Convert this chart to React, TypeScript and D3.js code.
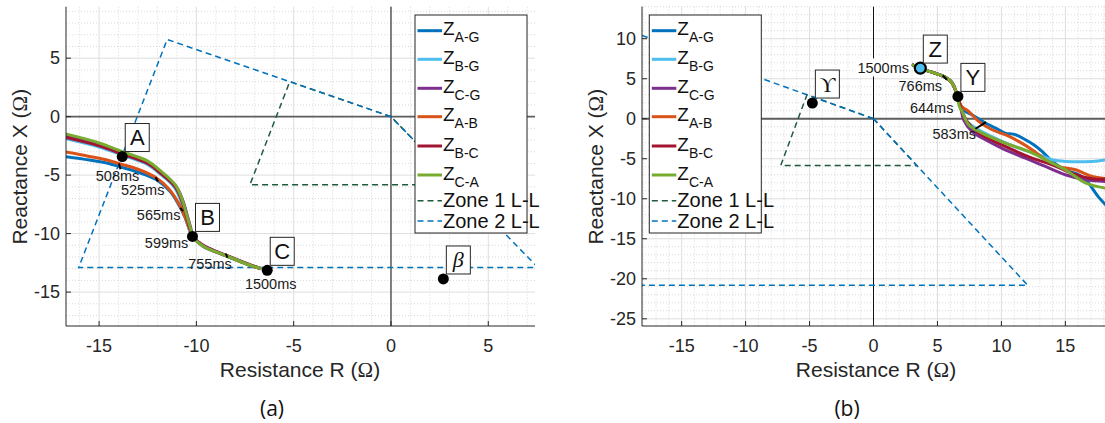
import React from 'react';
import * as d3 from 'd3';

type P = [number, number];

const seriesKeys = ['A-G', 'B-G', 'C-G', 'A-B', 'B-C', 'C-A'];
const seriesColors = ['#0072BD', '#4DBEEE', '#7E2F8E', '#D95319', '#A2142F', '#77AC30'];
const zoneNames = ['Zone 1 L-L', 'Zone 2 L-L'];
const zoneColors = ['#1f5a3c', '#0072BD'];

// ---------- panel (a) ----------
const aXDomain: P = [-16.7, 7.4];
const aYDomain: P = [-17.9, 9.4];
const aXTicks = [-15, -10, -5, 0, 5];
const aYTicks = [-15, -10, -5, 0, 5];

const aZAG: P[] = [[-16.8, -3.4], [-15.5, -3.7], [-14.5, -4.0], [-13.9, -4.3], [-13, -4.75], [-12.05, -5.4], [-11.35, -6.4], [-10.95, -7.4], [-10.6, -8.55], [-10.35, -9.7], [-10.2, -10.24], [-9.65, -11.1], [-8.45, -11.92], [-7.07, -12.82], [-6.75, -12.97]];
const aZBG: P[] = [[-16.8, -1.85], [-15, -2.6], [-13.8, -3.3], [-12.5, -4.1], [-11.9, -4.85], [-11.15, -6.0], [-10.8, -7.2], [-10.55, -8.6], [-10.3, -9.95], [-10.2, -10.24], [-9.65, -11.05], [-8.45, -11.9], [-7.07, -12.8], [-6.7, -12.95]];
const aZCG: P[] = [[-16.8, -1.65], [-15, -2.4], [-13.8, -3.1], [-12.5, -3.9], [-11.85, -4.7], [-11.05, -5.95], [-10.7, -7.15], [-10.45, -8.55], [-10.22, -9.95], [-10.18, -10.22], [-9.62, -11.02], [-8.42, -11.88], [-7.05, -12.78], [-6.8, -12.93]];
const aZAB: P[] = [[-16.8, -3.0], [-15.5, -3.4], [-14.5, -3.75], [-13.9, -4.05], [-13, -4.5], [-12.05, -5.25], [-11.4, -6.2], [-10.95, -7.3], [-10.6, -8.5], [-10.35, -9.6], [-10.2, -10.22], [-9.65, -11.06], [-8.45, -11.91], [-7.07, -12.81], [-6.72, -12.96]];
const aZBC: P[] = [[-16.8, -1.75], [-15, -2.5], [-13.8, -3.2], [-12.5, -4.0], [-11.88, -4.78], [-11.1, -5.98], [-10.75, -7.18], [-10.5, -8.58], [-10.26, -9.97], [-10.2, -10.24], [-9.64, -11.04], [-8.44, -11.89], [-7.06, -12.79], [-6.78, -12.94]];
const aZCA: P[] = [[-16.8, -1.45], [-15, -2.25], [-13.8, -3.0], [-12.5, -3.8], [-11.9, -4.55], [-11.1, -5.8], [-10.75, -7.0], [-10.5, -8.4], [-10.25, -9.9], [-10.2, -10.24], [-9.66, -11.06], [-8.46, -11.9], [-7.08, -12.8], [-6.74, -12.95]];

const aZone1: P[] = [[0, 0], [-5.2, 3.0], [-7.25, -5.83], [3.38, -5.83], [0, 0]];
const aZone2: P[] = [[0, 0], [-11.5, 6.6], [-16.05, -12.9], [7.55, -12.9], [0, 0]];

const aDots: P[] = [[-13.81, -3.41], [-10.2, -10.24], [-6.36, -13.14], [2.69, -13.88]];
const aDotLabels = ['A', 'B', 'C', 'β'];
const aTimeText = ['508ms', '525ms', '565ms', '599ms', '755ms', '1500ms'];
const aTimePos: P[] = [[-14.05, -5.06], [-12.76, -6.25], [-11.94, -8.39], [-11.53, -10.8], [-9.3, -12.6], [-6.18, -14.3]];
const aTimeTicks: [P, P][] = [
  [[-13.98, -4.0], [-13.9, -4.5]],
  [[-12.1, -5.18], [-11.97, -5.55]],
  [[-10.83, -7.8], [-10.69, -8.08]],
  [[-8.49, -11.72], [-8.4, -12.06]],
];

// ---------- panel (b) ----------
const bXDomain: P = [-18.1, 18.1];
const bYDomain: P = [-25.9, 14];
const bXTicks = [-15, -10, -5, 0, 5, 10, 15];
const bYTicks = [-25, -20, -15, -10, -5, 0, 5, 10];

const bZAG: P[] = [[3.1, 6.7], [3.66, 6.3], [4.5, 5.85], [5.6, 5.2], [6.14, 4.5], [6.45, 3.4], [6.6, 2.6], [6.85, 1.6], [7.2, 0.9], [7.7, 0.5], [8.75, -0.54], [9.79, -1.38], [10.3, -1.79], [11.1, -2.0], [11.88, -2.63], [12.53, -3.25], [13.18, -4.08], [13.97, -5.33], [15.0, -6.38], [16.05, -7.0], [16.6, -7.6], [17.1, -8.67], [17.6, -9.8], [18.3, -11.0]];
const bZBG: P[] = [[3.1, 6.7], [3.66, 6.3], [4.5, 5.85], [5.6, 5.2], [6.14, 4.5], [6.45, 3.4], [6.6, 2.6], [6.8, 1.5], [7.18, -0.13], [8.22, -1.38], [9.79, -2.63], [11.35, -3.67], [12.92, -4.5], [13.97, -5.13], [15.0, -5.33], [17.1, -5.33], [18.3, -5.1]];
const bZCG: P[] = [[3.1, 6.7], [3.66, 6.3], [4.5, 5.85], [5.6, 5.2], [6.14, 4.5], [6.45, 3.4], [6.6, 2.6], [6.8, 1.5], [7.05, -0.13], [7.7, -1.58], [8.75, -2.63], [10.3, -3.88], [11.88, -4.92], [13.44, -5.96], [15, -7.0], [16.6, -7.63], [18.3, -7.85]];
const bZAB: P[] = [[3.1, 6.7], [3.66, 6.3], [4.5, 5.85], [5.6, 5.2], [6.14, 4.5], [6.45, 3.4], [6.62, 2.6], [6.85, 1.6], [7.44, 0.92], [8.22, -0.33], [9.27, -1.38], [10.3, -2.0], [11.35, -2.83], [12.4, -3.88], [13.44, -5.13], [14.48, -5.96], [15.8, -6.38], [17.1, -7.2], [18.3, -7.5]];
const bZBC: P[] = [[3.1, 6.7], [3.66, 6.3], [4.5, 5.85], [5.6, 5.2], [6.14, 4.5], [6.45, 3.4], [6.6, 2.6], [6.8, 1.5], [7.31, -0.33], [8.22, -1.79], [10.3, -3.46], [12.4, -4.92], [13.97, -5.75], [15.5, -6.79], [17.1, -7.5], [18.3, -7.55]];
const bZCA: P[] = [[3.1, 6.7], [3.66, 6.3], [4.5, 5.85], [5.6, 5.2], [6.14, 4.5], [6.45, 3.4], [6.58, 2.6], [6.7, 1.6], [6.93, 0.92], [7.44, -0.75], [8.49, -1.79], [10.3, -3.04], [12.14, -4.08], [13.7, -5.33], [15, -6.38], [16.6, -8.04], [18.3, -8.7]];

const bZone1: P[] = [[0, 0], [-5.2, 3.0], [-7.25, -5.83], [3.38, -5.83], [0, 0]];
const bZone2: P[] = [[0, 0], [-18.6, 10.7], [-26, -20.8], [12.05, -20.8], [0, 0]];

const bDots: P[] = [[3.66, 6.33], [6.6, 2.79], [-4.78, 1.96]];
const bDotLabels = ['Z', 'Y', 'ϒ'];
const bTimeText = ['1500ms', '766ms', '644ms', '583ms'];
const bTimePos: P[] = [[0.76, 6.41], [3.66, 4.04], [4.55, 1.34], [6.31, -1.92]];
const bTimeTicks: [P, P][] = [
  [[5.41, 5.41], [5.75, 4.88]],
  [[7.97, -1.25], [8.8, -0.42]],
];

const FONT = '"Liberation Sans", Arial, Helvetica, sans-serif';
const AXIS = '#262626';
const TOP = 6.7;
const BOTTOM = 326;

type PanelProps = {
  id: string;
  xDomain: P; yDomain: P; xRange: P;
  xTicks: number[]; yTicks: number[];
  series: P[][];
  zones: P[][];
  dots: P[]; dotLabels: string[]; hollowFirst?: boolean;
  timeText: string[]; timePos: P[]; timeTicks: [P, P][]; bgFirst?: boolean;
  legendX: number;
  yTitleX: number;
  xTitleX: number;
  captionX: number;
  caption: string;
};

function Panel(p: PanelProps) {
  const x = d3.scaleLinear().domain(p.xDomain).range(p.xRange);
  const y = d3.scaleLinear().domain(p.yDomain).range([BOTTOM, TOP]);
  const [x0, x1] = p.xRange;
  const curve = d3.line<P>().x(d => x(d[0])).y(d => y(d[1])).curve(d3.curveCatmullRom.alpha(0.5));
  const poly = d3.line<P>().x(d => x(d[0])).y(d => y(d[1]));
  const xMinor = d3.range(Math.ceil(p.xDomain[0]), Math.floor(p.xDomain[1]) + 1).filter(v => v % 5 !== 0);
  const yMinor = d3.range(Math.ceil(p.yDomain[0]), Math.floor(p.yDomain[1]) + 1).filter(v => v % 5 !== 0);
  const clip = `url(#clip-${p.id})`;
  const isSerif = (s: string) => s === 'β' || s === 'ϒ';
  const lx = p.legendX;
  const rowY = [30.7, 59.3, 88.3, 116.7, 146, 175, 200.7, 221];
  return (
    <g>
      <defs>
        <clipPath id={`clip-${p.id}`}>
          <rect x={x0} y={TOP} width={x1 - x0} height={BOTTOM - TOP} />
        </clipPath>
      </defs>
      {xMinor.map(v => (
        <line key={'xm' + v} x1={x(v)} x2={x(v)} y1={TOP} y2={BOTTOM} stroke="#cfcfcf" strokeWidth={0.8} strokeDasharray="1 2" />
      ))}
      {yMinor.map(v => (
        <line key={'ym' + v} x1={x0} x2={x1} y1={y(v)} y2={y(v)} stroke="#cfcfcf" strokeWidth={0.8} strokeDasharray="1 2" />
      ))}
      {p.xTicks.map(v => (
        <line key={'xg' + v} x1={x(v)} x2={x(v)} y1={TOP} y2={BOTTOM} stroke="#dedede" strokeWidth={1} />
      ))}
      {p.yTicks.map(v => (
        <line key={'yg' + v} x1={x0} x2={x1} y1={y(v)} y2={y(v)} stroke="#dedede" strokeWidth={1} />
      ))}
      <line x1={x0} x2={x1} y1={y(0)} y2={y(0)} stroke="#5e5e5e" strokeWidth={1.8} />
      <line x1={x(0)} x2={x(0)} y1={TOP} y2={BOTTOM} stroke="#111" strokeWidth={1} />
      <g clipPath={clip}>
        {p.zones.map((z, i) => (
          <path key={'z' + i} d={poly(z) || ''} fill="none" stroke={zoneColors[i]} strokeWidth={1.5} strokeDasharray="6 4" />
        ))}
        {p.series.map((s, i) => (
          <path key={'s' + i} d={curve(s) || ''} fill="none" stroke={seriesColors[i]} strokeWidth={3} strokeLinejoin="round" strokeLinecap="round" />
        ))}
        {p.timeTicks.map((t, i) => (
          <line key={'tt' + i} x1={x(t[0][0])} y1={y(t[0][1])} x2={x(t[1][0])} y2={y(t[1][1])} stroke="#000" strokeWidth={2} />
        ))}
      </g>
      {p.timeText.map((t, i) => (
        <g key={'tl' + i}>
          {p.bgFirst && i === 0 && (
            <rect x={x(p.timePos[i][0]) - 28} y={y(p.timePos[i][1]) - 9} width={56} height={18} fill="#fff" />
          )}
          <text x={x(p.timePos[i][0])} y={y(p.timePos[i][1])} dy="0.35em" textAnchor="middle" fontFamily={FONT} fontSize={14.5} fill="#1a1a1a">{t}</text>
        </g>
      ))}
      {p.dots.map((d, i) => (
        <g key={'d' + i}>
          <circle cx={x(d[0])} cy={y(d[1])} r={5.5} fill={p.hollowFirst && i === 0 ? '#4DBEEE' : '#000'} stroke="#000" strokeWidth={p.hollowFirst && i === 0 ? 2.2 : 0} />
          <rect x={x(d[0]) + 3} y={y(d[1]) - 5 - 28} width={24} height={28} fill="#fff" stroke={AXIS} strokeWidth={1} />
          <text x={x(d[0]) + 15} y={y(d[1]) - 11.5} textAnchor="middle"
            fontFamily={isSerif(p.dotLabels[i]) ? '"Liberation Serif", "DejaVu Serif", serif' : FONT}
            fontStyle={p.dotLabels[i] === 'β' ? 'italic' : 'normal'}
            fontSize={22} fill="#111">{p.dotLabels[i]}</text>
        </g>
      ))}
      <g>
        <rect x={lx} y={15} width={112} height={218} fill="#fff" stroke={AXIS} strokeWidth={1} />
        {seriesKeys.map((k, i) => (
          <g key={'lg' + k}>
            <line x1={lx + 2.5} x2={lx + 27} y1={rowY[i]} y2={rowY[i]} stroke={seriesColors[i]} strokeWidth={3} />
            <text x={lx + 28} y={rowY[i] + 4.5} fontFamily={FONT} fontSize={19} fill="#111">
              Z<tspan fontSize={14} dy={7}>{k}</tspan>
            </text>
          </g>
        ))}
        {zoneNames.map((n, j) => (
          <g key={'lz' + j}>
            <line x1={lx + 2.5} x2={lx + 27} y1={rowY[6 + j]} y2={rowY[6 + j]} stroke={zoneColors[j]} strokeWidth={1.5} strokeDasharray="6 4" />
            <text x={lx + 28} y={rowY[6 + j] + 6.5} fontFamily={FONT} fontSize={20} fill="#111">{n}</text>
          </g>
        ))}
      </g>
      <line x1={x0} x2={x0} y1={TOP} y2={BOTTOM} stroke={AXIS} strokeWidth={1} />
      <line x1={x0} x2={x1} y1={BOTTOM} y2={BOTTOM} stroke={AXIS} strokeWidth={1} />
      {p.xTicks.map(v => (
        <g key={'xt' + v}>
          <line x1={x(v)} x2={x(v)} y1={BOTTOM} y2={BOTTOM - 5} stroke={AXIS} />
          <text x={x(v)} y={BOTTOM + 26} textAnchor="middle" fontFamily={FONT} fontSize={18} fill={AXIS}>{v}</text>
        </g>
      ))}
      {p.yTicks.map(v => (
        <g key={'yt' + v}>
          <line x1={x0} x2={x0 + 5} y1={y(v)} y2={y(v)} stroke={AXIS} />
          <text x={x0 - 6} y={y(v)} dy="0.35em" textAnchor="end" fontFamily={FONT} fontSize={18} fill={AXIS}>{v}</text>
        </g>
      ))}
      <text x={p.xTitleX} y={377} textAnchor="middle" fontFamily={FONT} fontSize={21} fill={AXIS}>
        Resistance R (<tspan fontFamily='"Liberation Serif", serif'>Ω</tspan>)
      </text>
      <text transform={`translate(${p.yTitleX},166.7) rotate(-90)`} textAnchor="middle" fontFamily={FONT} fontSize={21} fill={AXIS}>
        Reactance X (<tspan fontFamily='"Liberation Serif", serif'>Ω</tspan>)
      </text>
      <text x={p.captionX} y={416} textAnchor="middle" fontFamily='"Open Sans", "Noto Sans", sans-serif' fontSize={21} fill="#111">{p.caption}</text>
    </g>
  );
}

export default function App() {
  return (
    <svg width={1105} height={423} style={{ position: 'absolute', left: 0, top: 0, background: '#fff' }}>
      <rect width={1105} height={423} fill="#fff" />
      <Panel id="a" xDomain={aXDomain} yDomain={aYDomain} xRange={[66, 535]} xTicks={aXTicks} yTicks={aYTicks}
        series={[aZAG, aZBG, aZCG, aZAB, aZBC, aZCA]} zones={[aZone1, aZone2]}
        dots={aDots} dotLabels={aDotLabels}
        timeText={aTimeText} timePos={aTimePos} timeTicks={aTimeTicks}
        legendX={415} yTitleX={27} xTitleX={300} captionX={272} caption="(a)" />
      <Panel id="b" xDomain={bXDomain} yDomain={bYDomain} xRange={[642, 1105]} xTicks={bXTicks} yTicks={bYTicks}
        series={[bZAG, bZBG, bZCG, bZAB, bZBC, bZCA]} zones={[bZone1, bZone2]}
        dots={bDots} dotLabels={bDotLabels} hollowFirst
        timeText={bTimeText} timePos={bTimePos} timeTicks={bTimeTicks} bgFirst
        legendX={649.3} yTitleX={603} xTitleX={876} captionX={847} caption="(b)" />
    </svg>
  );
}
